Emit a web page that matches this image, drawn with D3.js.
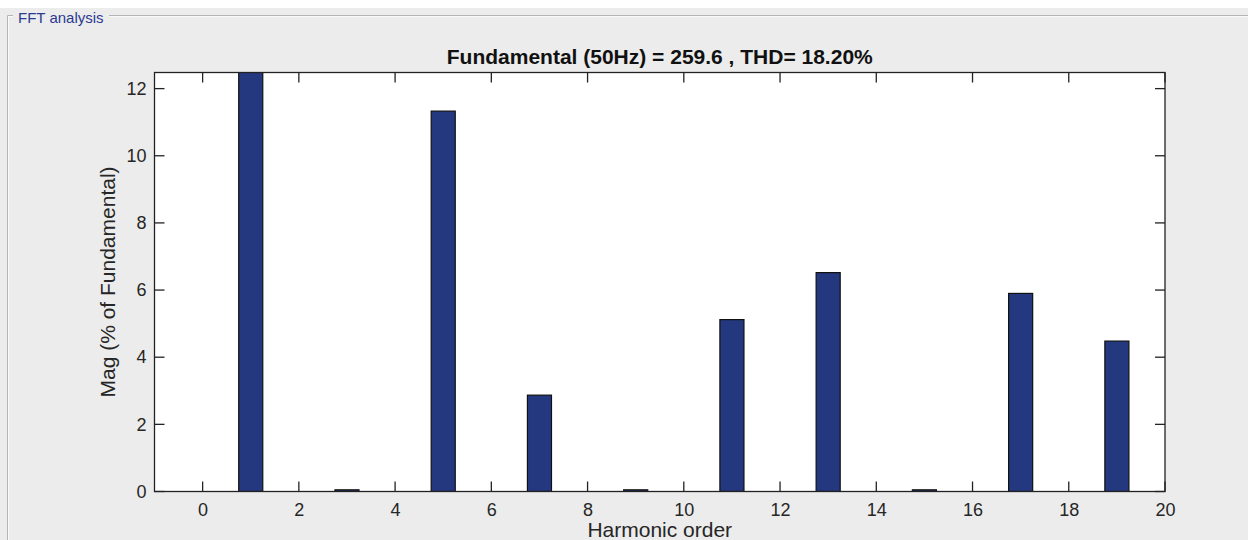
<!DOCTYPE html>
<html><head><meta charset="utf-8">
<script src="https://cdn.jsdelivr.net/npm/d3@7"></script>
<style>
html,body{margin:0;padding:0;background:#fff;}
svg{display:block;font-family:"Liberation Sans",Arial,sans-serif;}
</style></head>
<body>
<svg id="chart" width="1248" height="540"></svg>
<script>
const harmonics = [0,1,2,3,4,5,6,7,8,9,10,11,12,13,14,15,16,17,18,19];
const magnitudes = [0,100,0,0.05,0,11.33,0,2.87,0,0.05,0,5.12,0,6.52,0,0.05,0,5.9,0,4.48];
const xTicks = [0,2,4,6,8,10,12,14,16,18,20];
const yTicks = [0,2,4,6,8,10,12];
const titleText = "Fundamental (50Hz) = 259.6 , THD= 18.20%";
const xLabel = "Harmonic order";
const yLabel = "Mag (% of Fundamental)";
const panelLabel = "FFT analysis";

const svg = d3.select("#chart");
const W = 1248, H = 540;
const L = 154.5, R = 1165, T = 72.5, B = 491.5;

// panel background
svg.append("rect").attr("x",0).attr("y",8).attr("width",W).attr("height",H-8).attr("fill","#ececec");
// panel border (etched)
const bc = "#b4b4b4";
svg.append("path").attr("d",`M7.5,${H}V15.5H13`).attr("fill","none").attr("stroke",bc);
svg.append("path").attr("d",`M109,15.5H${W}`).attr("fill","none").attr("stroke",bc);
svg.append("path").attr("d",`M8.5,${H}V16.5H13 M109,16.5H${W}`).attr("fill","none").attr("stroke","#fafafa");
svg.append("text").attr("x",18).attr("y",23).attr("font-size",15).attr("fill","#2b3a92").text(panelLabel);

const x = d3.scaleLinear().domain([-1,20]).range([L,R]);
const y = d3.scaleLinear().domain([0,12.48]).range([B,T]);

svg.append("rect").attr("x",L).attr("y",T).attr("width",R-L).attr("height",B-T).attr("fill","#fff");

svg.append("clipPath").attr("id","clip").append("rect").attr("x",L).attr("y",T).attr("width",R-L).attr("height",B-T);

const data = harmonics.map((h,i)=>({h, v: magnitudes[i]}));
svg.append("g").attr("clip-path","url(#clip)").selectAll("rect").data(data.filter(d=>d.v>0)).join("rect")
  .attr("x", d=>x(d.h-0.25)).attr("width", d=>x(d.h+0.25)-x(d.h-0.25))
  .attr("y", d=>Math.min(y(d.v), B-1.5)).attr("height", d=>B-Math.min(y(d.v), B-1.5))
  .attr("fill","#24387f").attr("stroke","#111").attr("stroke-width",1.2);

const tl = 10;
const axB = d3.axisBottom(x).tickValues(xTicks).tickSize(0).tickPadding(12).tickFormat(d3.format("d"));
const axL = d3.axisLeft(y).tickValues(yTicks).tickSize(0).tickPadding(8).tickFormat(d3.format("d"));
const gB = svg.append("g").attr("transform",`translate(0,${B})`).call(axB);
const gL = svg.append("g").attr("transform",`translate(${L},0)`).call(axL);
[gB,gL].forEach(g=>{ g.select(".domain").remove(); g.selectAll("text").attr("font-size",18).attr("fill","#262626").attr("font-family","Liberation Sans, Arial, sans-serif"); });
gB.selectAll("text").attr("dy","0.71em");

// inward ticks on all four sides
const tg = svg.append("g").attr("stroke","#222").attr("stroke-width",1.3);
xTicks.forEach(t=>{
  tg.append("line").attr("x1",x(t)).attr("x2",x(t)).attr("y1",B).attr("y2",B-tl);
  tg.append("line").attr("x1",x(t)).attr("x2",x(t)).attr("y1",T).attr("y2",T+tl);
});
yTicks.forEach(t=>{
  tg.append("line").attr("y1",y(t)).attr("y2",y(t)).attr("x1",L).attr("x2",L+tl);
  tg.append("line").attr("y1",y(t)).attr("y2",y(t)).attr("x1",R).attr("x2",R-tl);
});
svg.append("rect").attr("x",L).attr("y",T).attr("width",R-L).attr("height",B-T)
  .attr("fill","none").attr("stroke","#222").attr("stroke-width",1.3);

svg.append("text").attr("x",(L+R)/2).attr("y",63.5).attr("text-anchor","middle")
  .attr("font-size",21).attr("font-weight","bold").attr("fill","#111").text(titleText);
svg.append("text").attr("x",(L+R)/2).attr("y",537).attr("text-anchor","middle")
  .attr("font-size",21).attr("fill","#262626").text(xLabel);
svg.append("text").attr("transform",`translate(115,${(T+B)/2}) rotate(-90)`).attr("text-anchor","middle")
  .attr("font-size",21).attr("fill","#262626").text(yLabel);
</script>
</body></html>
